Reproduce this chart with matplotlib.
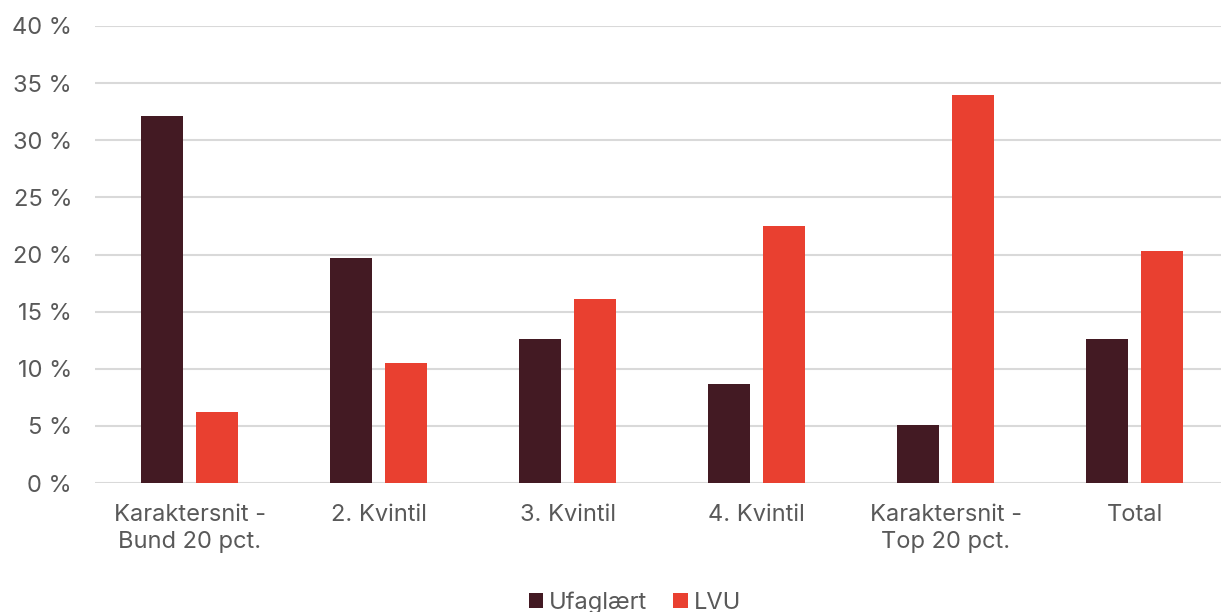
import numpy as np
import matplotlib
matplotlib.use("Agg")
import matplotlib.pyplot as plt
from matplotlib.ticker import FuncFormatter

categories = ["Karaktersnit -\nBund 20 pct.", "2. Kvintil", "3. Kvintil",
              "4. Kvintil", "Karaktersnit -\nTop 20 pct.", "Total"]
ufaglaert = [32.1, 19.7, 12.6, 8.7, 5.1, 12.6]
lvu = [6.2, 10.5, 16.1, 22.5, 34.0, 20.3]
series_names = ["Ufaglært", "LVU"]

plt.rcParams['font.family'] = ['Inter', 'DejaVu Sans']
text_col = "#595959"

fig = plt.figure(figsize=(12.21, 6.12), dpi=100)
ax = fig.add_axes([95/1221, 129/612, 1 - 95/1221, (483-26)/612])

x = np.arange(len(categories))
w = 0.222
off = 0.143
ax.bar(x - off, ufaglaert, w, color="#431A23", label=series_names[0], zorder=3)
ax.bar(x + off, lvu, w, color="#E94030", label=series_names[1], zorder=3)

ax.set_ylim(0, 40)
ax.set_xlim(-0.5, -0.5 + 1126/189)
ax.set_yticks(np.arange(0, 41, 5))
ax.yaxis.set_major_formatter(FuncFormatter(lambda v, p: f"{int(v)} %"))
ax.grid(axis="y", color="#d9d9d9", linewidth=1.5, zorder=0)
for s in ax.spines.values():
    s.set_visible(False)
ax.tick_params(axis="y", length=0, pad=16.5, labelsize=17, labelcolor=text_col)
ax.tick_params(axis="x", length=0, pad=15, labelsize=17, labelcolor=text_col)
ax.set_xticks(x)
ax.set_xticklabels(categories, linespacing=1.3)

fig.legend(loc="lower center", bbox_to_anchor=(0.52, -0.038), ncol=2, frameon=False,
           fontsize=17, labelcolor=text_col, handlelength=0.6, handleheight=0.6,
           handletextpad=0.25, columnspacing=1.1)

fig.savefig("out.png", dpi=100)
